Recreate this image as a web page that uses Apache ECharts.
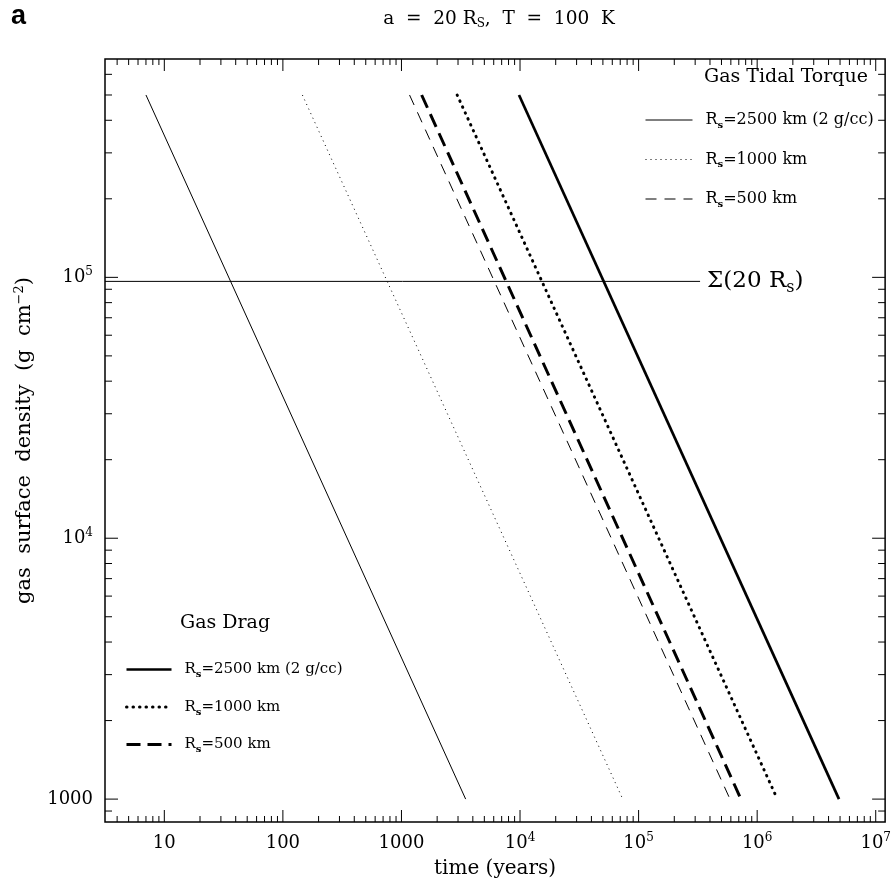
<!DOCTYPE html>
<html>
<head>
<meta charset="utf-8">
<script src="https://cdn.jsdelivr.net/npm/echarts@6/dist/echarts.min.js"></script>
<style>html,body{margin:0;padding:0;background:#fff}#c{width:894px;height:884px}</style>
</head>
<body>
<div id="c"></div>
<script>
// ---------- data ----------
// each curve: [time (years), gas surface density (g cm^-2)]
const torque2500 = [[7, 5e5], [3480, 1000]];
const torque1000 = [[146, 5e5], [73500, 1000]];
const torque500  = [[1170, 5e5], [590000, 1000]];
const drag2500   = [[9800, 5e5], [4.9e6, 1000]];
const drag1000   = [[2950, 5e5], [1.48e6, 1000]];
const drag500    = [[1480, 5e5], [7.3e5, 1000]];
const sigma20    = [[3.16, 96500], [3.3e5, 96500]];

const xLabelValues = [10, 100, 1000, 1e4, 1e5, 1e6, 1e7];
const yLabelValues = [1000, 1e4, 1e5];
const xDecades = [1, 10, 100, 1000, 1e4, 1e5, 1e6, 1e7];
const yDecades = [100, 1000, 1e4, 1e5];
const tickMantissas = [1, 2, 3, 4, 5, 6, 7, 8, 9];

const X_MIN = 3.16, X_MAX = 1.2e7, Y_MIN = 817, Y_MAX = 6.87e5;
const FONT = 'DejaVu Serif';

// ---------- tick lists ----------
const xTicks = [], yTicks = [];
xDecades.forEach(d => tickMantissas.forEach(m => {
  const v = m * d;
  if (v >= X_MIN && v <= X_MAX) xTicks.push([v, Y_MIN, m === 1 ? 1 : 0]);
}));
yDecades.forEach(d => tickMantissas.forEach(m => {
  const v = m * d;
  if (v >= Y_MIN && v <= Y_MAX) yTicks.push([X_MIN, v, m === 1 ? 1 : 0]);
}));

function powLabel(v, list) {
  const lv = Math.log10(v);
  const hit = list.find(t => Math.abs(Math.log10(t) - lv) < 1e-6);
  if (hit === undefined) return '';
  const e = Math.round(Math.log10(hit));
  return e <= 3 ? '{b|' + hit + '}' : '{b|10}{sup|' + e + '}';
}
const numRich = {
  b: {fontFamily: FONT, fontSize: 18, lineHeight: 22, color: '#000'},
  sup: {fontFamily: FONT, fontSize: 12, lineHeight: 12, verticalAlign: 'top', color: '#000'}
};
function legRich(fs) {
  return {
    m: {fontFamily: FONT, fontSize: fs, lineHeight: 20, color: '#000'},
    s: {fontFamily: FONT, fontSize: 10, lineHeight: 9, verticalAlign: 'bottom', fontWeight: 'bold', color: '#000'}
  };
}
const legendText = {
  t2500: '{m|R}{s|s}{m|=2500 km (2 g/cc)}',
  t1000: '{m|R}{s|s}{m|=1000 km}',
  t500:  '{m|R}{s|s}{m|=500 km}',
  d2500: '{m|R}{s|s}{m|=2500 km (2 g/cc)}',
  d1000: '{m|R}{s|s}{m|=1000 km}',
  d500:  '{m|R}{s|s}{m|=500 km}'
};

function tickRenderer(isX) {
  return function (params, api) {
    const major = api.value(2);
    const L = major ? 12 : 6;
    const st = {stroke: '#000', lineWidth: 1};
    if (isX) {
      const v = api.value(0);
      const b = api.coord([v, Y_MIN]), t = api.coord([v, Y_MAX]);
      return {type: 'group', children: [
        {type: 'line', shape: {x1: b[0], y1: b[1], x2: b[0], y2: b[1] - L}, style: st},
        {type: 'line', shape: {x1: t[0], y1: t[1], x2: t[0], y2: t[1] + L}, style: st}
      ]};
    } else {
      const v = api.value(1);
      const l = api.coord([X_MIN, v]), r = api.coord([X_MAX, v]);
      return {type: 'group', children: [
        {type: 'line', shape: {x1: l[0], y1: l[1], x2: l[0] + L + 1, y2: l[1]}, style: st},
        {type: 'line', shape: {x1: r[0], y1: r[1], x2: r[0] - L - 1, y2: r[1]}, style: st}
      ]};
    }
  };
}

function lineSeries(name, data, width, type, cap) {
  return {type: 'line', name, data, symbol: 'none', silent: true, animation: false,
    lineStyle: {color: '#000', width, type, cap: cap || 'butt'}, itemStyle: {color: '#000'}};
}

function legendBlock(names, left, top, w, gap, fs) {
  return {
    data: names, orient: 'vertical', left, top, padding: 0,
    itemWidth: w, itemHeight: 14, itemGap: gap, selectedMode: false,
    formatter: n => legendText[n],
    textStyle: {rich: legRich(fs), padding: [0, 0, 0, 8]},
    itemStyle: {color: 'rgba(0,0,0,0)', borderWidth: 0},
    lineStyle: {width: 'inherit', type: 'inherit', cap: 'inherit'}
  };
}

const chart = echarts.init(document.getElementById('c'), null, {renderer: 'canvas'});
chart.setOption({
  backgroundColor: '#fff',
  animation: false,
  grid: {left: 105, right: 7, top: 59, bottom: 61, show: true, borderColor: '#000', borderWidth: 1.5, backgroundColor: 'transparent'},
  xAxis: {
    type: 'log', logBase: 10, min: X_MIN, max: X_MAX,
    axisLine: {show: false}, axisTick: {show: false}, splitLine: {show: false},
    axisLabel: {margin: 10, formatter: v => powLabel(v, xLabelValues), rich: numRich, showMinLabel: true, showMaxLabel: true, hideOverlap: false},
    name: 'time (years)', nameLocation: 'middle', nameGap: 37,
    nameTextStyle: {fontFamily: FONT, fontSize: 20, color: '#000'}
  },
  yAxis: {
    type: 'log', logBase: 10, min: Y_MIN, max: Y_MAX,
    axisLine: {show: false}, axisTick: {show: false}, splitLine: {show: false},
    axisLabel: {margin: 12, formatter: v => powLabel(v, yLabelValues), rich: numRich},
    name: '{n|gas  surface  density  (g  cm}{sup|−2}{n|)}', nameLocation: 'middle', nameGap: 68,
    nameTextStyle: {rich: {
      n: {fontFamily: FONT, fontSize: 21, lineHeight: 24, color: '#000'},
      sup: {fontFamily: FONT, fontSize: 13, lineHeight: 12, verticalAlign: 'top', color: '#000'}
    }}
  },
  legend: [
    legendBlock(['t2500', 't1000', 't500'], 645, 112, 47, 21.5, 16),
    legendBlock(['d2500', 'd1000', 'd500'], 125, 662, 45, 20, 15)
  ],
  graphic: [
    {type: 'text', left: 11, top: 3, style: {text: 'a', font: 'bold 27px "Liberation Sans"', fill: '#000'}},
    {type: 'text', x: 499, y: 19, style: {
      text: '{m|a  =  20 R}{s|S}{m|,  T  =  100  K}', align: 'center', verticalAlign: 'middle',
      rich: {m: {fontFamily: FONT, fontSize: 18.5, lineHeight: 22, fill: '#000'},
             s: {fontFamily: FONT, fontSize: 12, lineHeight: 10, verticalAlign: 'bottom', fill: '#000'}}}},
    {type: 'text', x: 704, y: 77, style: {text: 'Gas Tidal Torque', font: '19px "DejaVu Serif"', fill: '#000', verticalAlign: 'middle'}},
    {type: 'text', x: 180, y: 623, style: {text: 'Gas Drag', font: '19px "DejaVu Serif"', fill: '#000', verticalAlign: 'middle'}}
  ],
  series: [
    lineSeries('t2500', torque2500, 1, 'solid'),
    lineSeries('t1000', torque1000, 1, [1, 4]),
    lineSeries('t500', torque500, 1, [11, 8]),
    lineSeries('d2500', drag2500, 2.7, 'solid'),
    lineSeries('d1000', drag1000, 3, [0.5, 6], 'round'),
    lineSeries('d500', drag500, 3, [14, 7]),
    Object.assign(lineSeries('sigma', sigma20, 1, 'solid'), {
      endLabel: {show: true, distance: 7, formatter: '{m|Σ(20 R}{s|s}{m|)}',
        rich: {m: {fontFamily: FONT, fontSize: 23, lineHeight: 28, color: '#000'},
               s: {fontFamily: FONT, fontSize: 16, lineHeight: 14, verticalAlign: 'bottom', color: '#000'}}}
    }),
    {type: 'custom', silent: true, animation: false, renderItem: tickRenderer(true), data: xTicks, encode: {x: 0, y: 1}, clip: false},
    {type: 'custom', silent: true, animation: false, renderItem: tickRenderer(false), data: yTicks, encode: {x: 0, y: 1}, clip: false}
  ]
});
</script>
</body>
</html>
